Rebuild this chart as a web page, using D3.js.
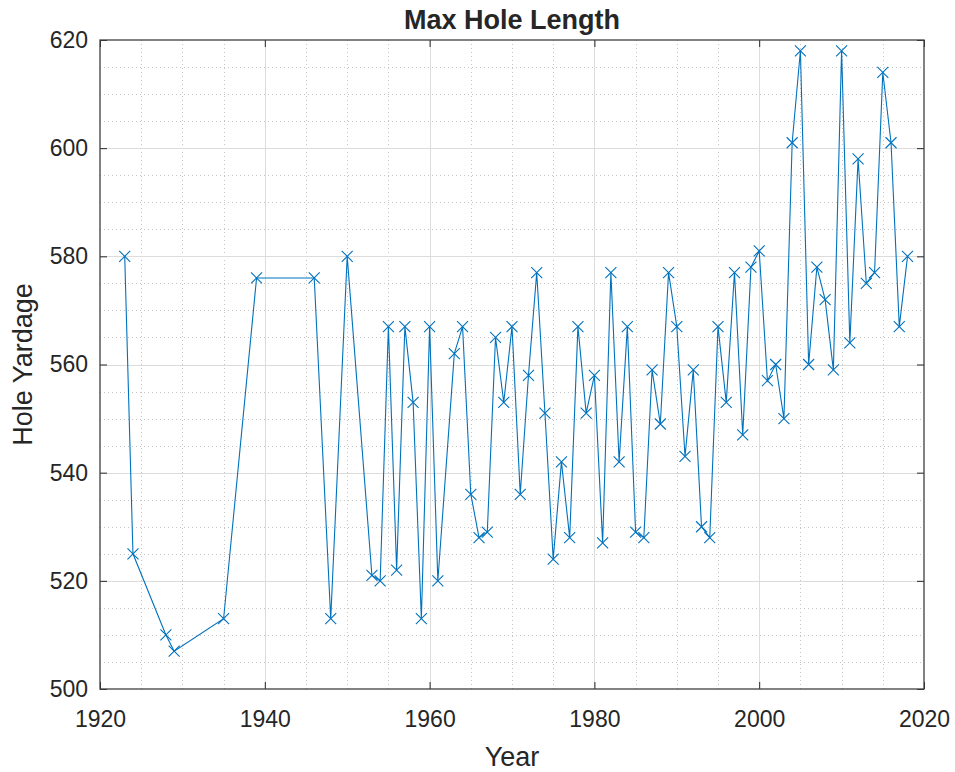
<!DOCTYPE html>
<html>
<head>
<meta charset="utf-8">
<script src="https://d3js.org/d3.v7.min.js"></script>
<style>
  body { margin: 0; background: #fff; }
  text { font-family: "Liberation Sans", Arial, sans-serif; fill: #262626; }
</style>
</head>
<body>
<script>
// year of each record, and the max hole length that year
var years = [1923, 1924, 1928, 1929, 1935, 1939, 1946, 1948, 1950, 1953, 1954, 1955, 1956, 1957, 1958, 1959,
  1960, 1961, 1963, 1964, 1965, 1966, 1967, 1968, 1969, 1970, 1971, 1972, 1973, 1974, 1975, 1976, 1977, 1978, 1979,
  1980, 1981, 1982, 1983, 1984, 1985, 1986, 1987, 1988, 1989, 1990, 1991, 1992, 1993, 1994, 1995, 1996, 1997, 1998, 1999,
  2000, 2001, 2002, 2003, 2004, 2005, 2006, 2007, 2008, 2009, 2010, 2011, 2012, 2013, 2014, 2015, 2016, 2017, 2018];
var yards = [580, 525, 510, 507, 513, 576, 576, 513, 580, 521, 520, 567, 522, 567, 553, 513,
  567, 520, 562, 567, 536, 528, 529, 565, 553, 567, 536, 558, 577, 551, 524, 542, 528, 567, 551,
  558, 527, 577, 542, 567, 529, 528, 559, 549, 577, 567, 543, 559, 530, 528, 567, 553, 577, 547, 578,
  581, 557, 560, 550, 601, 618, 560, 578, 572, 559, 618, 564, 598, 575, 577, 614, 601, 567, 580];

var xTicks = [1920, 1940, 1960, 1980, 2000, 2020];
var yTicks = [500, 520, 540, 560, 580, 600, 620];
var xMinor = d3.range(1920, 2021, 5);
var yMinor = d3.range(500, 621, 5);

var W = 955, H = 772;
var pL = 100, pR = 924, pT = 40, pB = 689;

var svg = d3.select("body").append("svg").attr("width", W).attr("height", H);

var x = d3.scaleLinear().domain([1920, 2020]).range([pL, pR]);
var y = d3.scaleLinear().domain([500, 620]).range([pB, pT]);

// minor grid (dotted)
var grid = svg.append("g");
grid.selectAll(".vmin").data(xMinor.filter(function (d) { return xTicks.indexOf(d) < 0; }))
  .enter().append("line")
  .attr("x1", function (d) { return Math.round(x(d)) + 0.5; }).attr("x2", function (d) { return Math.round(x(d)) + 0.5; })
  .attr("y1", pT).attr("y2", pB)
  .attr("stroke", "#c4c4c4").attr("stroke-width", 1).attr("stroke-dasharray", "1,3");
grid.selectAll(".hmin").data(yMinor.filter(function (d) { return yTicks.indexOf(d) < 0; }))
  .enter().append("line")
  .attr("y1", function (d) { return Math.round(y(d)) + 0.5; }).attr("y2", function (d) { return Math.round(y(d)) + 0.5; })
  .attr("x1", pL).attr("x2", pR)
  .attr("stroke", "#c4c4c4").attr("stroke-width", 1).attr("stroke-dasharray", "1,3");

// major grid
grid.selectAll(".vmaj").data(xTicks.slice(1, -1))
  .enter().append("line")
  .attr("x1", function (d) { return Math.round(x(d)) + 0.5; }).attr("x2", function (d) { return Math.round(x(d)) + 0.5; })
  .attr("y1", pT).attr("y2", pB)
  .attr("stroke", "#dcdcdc").attr("stroke-width", 1);
grid.selectAll(".hmaj").data(yTicks.slice(1, -1))
  .enter().append("line")
  .attr("y1", function (d) { return Math.round(y(d)) + 0.5; }).attr("y2", function (d) { return Math.round(y(d)) + 0.5; })
  .attr("x1", pL).attr("x2", pR)
  .attr("stroke", "#dcdcdc").attr("stroke-width", 1);

// axes, ticks inward on all four sides
var tk = 7;
svg.append("g").attr("transform", "translate(0," + pB + ")")
  .call(d3.axisBottom(x).tickValues(xTicks).tickSize(-tk).tickPadding(22).tickFormat(d3.format("d")))
  .call(function (g) { g.select(".domain").remove(); })
  .call(function (g) { g.selectAll("text").style("font-size", "23px").attr("fill", "#262626"); });
svg.append("g").attr("transform", "translate(0," + pT + ")")
  .call(d3.axisTop(x).tickValues(xTicks).tickSize(-tk).tickFormat(""))
  .call(function (g) { g.select(".domain").remove(); });
svg.append("g").attr("transform", "translate(" + pL + ",0)")
  .call(d3.axisLeft(y).tickValues(yTicks).tickSize(-tk).tickPadding(12))
  .call(function (g) { g.select(".domain").remove(); })
  .call(function (g) { g.selectAll("text").style("font-size", "23px").attr("fill", "#262626"); });
svg.append("g").attr("transform", "translate(" + pR + ",0)")
  .call(d3.axisRight(y).tickValues(yTicks).tickSize(-tk).tickFormat(""))
  .call(function (g) { g.select(".domain").remove(); });
svg.selectAll(".tick line").attr("stroke", "#262626");

svg.append("rect")
  .attr("x", pL).attr("y", pT).attr("width", pR - pL).attr("height", pB - pT)
  .attr("fill", "none").attr("stroke", "#404040").attr("stroke-width", 1.3);

// data line with x markers
var pts = years.map(function (d, i) { return [d, yards[i]]; });
var line = d3.line().x(function (d) { return x(d[0]); }).y(function (d) { return y(d[1]); });
svg.append("path").datum(pts).attr("d", line)
  .attr("fill", "none").attr("stroke", "#0072BD").attr("stroke-width", 1.1);

var m = 5.5;
svg.append("g").selectAll("path.mk").data(pts).enter().append("path")
  .attr("d", function (d) {
    var cx = x(d[0]), cy = y(d[1]);
    return "M" + (cx - m) + "," + (cy - m) + "L" + (cx + m) + "," + (cy + m) +
      "M" + (cx - m) + "," + (cy + m) + "L" + (cx + m) + "," + (cy - m);
  })
  .attr("stroke", "#0072BD").attr("stroke-width", 1.1).attr("fill", "none");

// labels
svg.append("text").attr("x", (pL + pR) / 2).attr("y", 29)
  .attr("text-anchor", "middle").style("font-size", "27px").style("font-weight", "bold")
  .attr("fill", "#000").text("Max Hole Length");
svg.append("text").attr("x", (pL + pR) / 2).attr("y", 766)
  .attr("text-anchor", "middle").style("font-size", "27px").text("Year");
svg.append("text").attr("transform", "translate(32," + ((pT + pB) / 2) + ") rotate(-90)")
  .attr("text-anchor", "middle").style("font-size", "27px").text("Hole Yardage");
</script>
</body>
</html>
